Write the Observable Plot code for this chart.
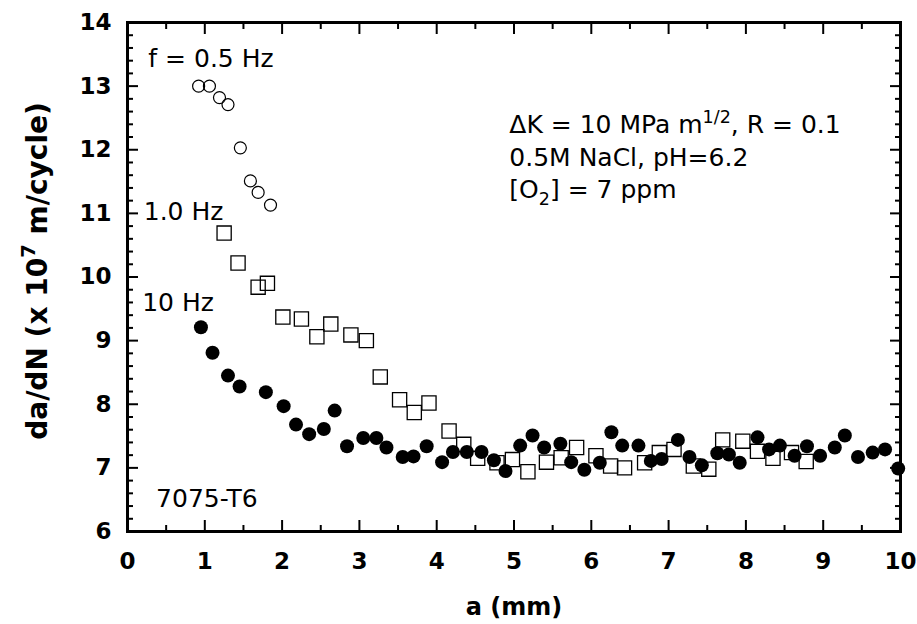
<!DOCTYPE html>
<html><head><meta charset="utf-8">
<script src="https://cdn.jsdelivr.net/npm/d3@7"></script>
<script src="https://cdn.jsdelivr.net/npm/@observablehq/plot@0.6"></script>
<style>body{margin:0;background:#fff}</style>
</head><body><div id="chart"></div>
<script>
// f = 0.5 Hz (open circles)
const a05 = [0.92, 1.06, 1.19, 1.30, 1.46, 1.59, 1.69, 1.85];
const r05 = [13.00, 13.00, 12.82, 12.71, 12.03, 11.51, 11.33, 11.13];
// f = 1.0 Hz (open squares)
const a1 = [1.25,1.43,1.69,1.81,2.01,2.25,2.45,2.63,2.89,3.09,3.27,3.52,3.71,3.90,4.16,4.35,4.53,4.78,4.98,5.18,5.42,5.61,5.81,6.06,6.25,6.43,6.69,6.88,7.07,7.32,7.52,7.70,7.96,8.15,8.35,8.59,8.78];
const r1 = [10.69,10.22,9.84,9.90,9.37,9.34,9.06,9.26,9.09,9.00,8.43,8.07,7.87,8.02,7.58,7.37,7.15,7.08,7.13,6.94,7.09,7.16,7.32,7.19,7.03,7.00,7.08,7.24,7.29,7.03,6.98,7.44,7.42,7.26,7.15,7.24,7.10];
// f = 10 Hz (filled circles)
const a10 = [0.95,1.10,1.30,1.45,1.79,2.02,2.18,2.35,2.54,2.68,2.84,3.05,3.22,3.35,3.56,3.70,3.87,4.07,4.21,4.39,4.58,4.74,4.89,5.08,5.24,5.39,5.60,5.74,5.91,6.11,6.26,6.40,6.61,6.77,6.91,7.12,7.27,7.43,7.63,7.78,7.92,8.15,8.30,8.44,8.63,8.79,8.96,9.15,9.28,9.45,9.64,9.80,9.97];
const r10 = [9.21,8.81,8.45,8.28,8.19,7.97,7.68,7.53,7.61,7.90,7.34,7.47,7.47,7.32,7.17,7.18,7.34,7.09,7.25,7.25,7.25,7.12,6.95,7.35,7.51,7.32,7.38,7.09,6.97,7.08,7.56,7.35,7.35,7.11,7.14,7.44,7.17,7.04,7.23,7.21,7.08,7.48,7.29,7.35,7.19,7.34,7.19,7.32,7.51,7.17,7.24,7.29,6.99];

const xTicks = [0,1,2,3,4,5,6,7,8,9,10];
const xMinor = [0.5,1.5,2.5,3.5,4.5,5.5,6.5,7.5,8.5,9.5];
const yTicks = [6,7,8,9,10,11,12,13,14];
const yMinor = [];
for (let v = 6; v < 14; v++) for (const f of [0.2,0.4,0.6,0.8]) yMinor.push(+(v + f).toFixed(1));

const xLabel = "a (mm)";
const yLabel = "da/dN (x 10^{7} m/cycle)";

// annotations (text, x, y in data units)
const seriesLabels = ["f = 0.5 Hz", "1.0 Hz", "10 Hz", "7075-T6"];
const seriesLabelX = [0.27, 0.21, 0.19, 0.37];
const seriesLabelY = [13.43, 11.02, 9.585, 6.51];
const condLines = ["ΔK = 10 MPa m^{1/2}, R = 0.1", "0.5M NaCl, pH=6.2", "[O_{2}] = 7 ppm"];
const condX = [4.94, 4.94, 4.94];
const condY = [12.39, 11.87, 11.37];

const pts05 = a05.map((a, i) => ({a, r: r05[i]}));
const pts1 = a1.map((a, i) => ({a, r: r1[i]}));
const pts10 = a10.map((a, i) => ({a, r: r10[i]}));
const sLab = seriesLabels.map((t, i) => ({t, x: seriesLabelX[i], y: seriesLabelY[i]}));
const cLab = condLines.map((t, i) => ({t, x: condX[i], y: condY[i]}));

const FF = "'DejaVu Sans', 'Liberation Sans', Arial, sans-serif";
const TICKFS = 23, ANNFS = 25, XLABFS = 24, YLABFS = 28;

const svg = Plot.plot({
  width: 917, height: 624,
  marginLeft: 127, marginRight: 17, marginTop: 22, marginBottom: 93,
  x: {domain: [0, 10]},
  y: {domain: [6, 14]},
  style: {fontFamily: FF, background: "white", color: "black"},
  marks: [
    // minor ticks (inward)
    Plot.axisX(xMinor, {anchor: "bottom", tickSize: -6, tickFormat: () => "", strokeWidth: 2, label: null}),
    Plot.axisX(xMinor, {anchor: "top", tickSize: -6, tickFormat: () => "", strokeWidth: 2, label: null}),
    Plot.axisY(yMinor, {anchor: "left", tickSize: -6, tickFormat: () => "", strokeWidth: 2, label: null}),
    Plot.axisY(yMinor, {anchor: "right", tickSize: -6, tickFormat: () => "", strokeWidth: 2, label: null}),
    // major ticks with labels
    Plot.axisX(xTicks, {anchor: "bottom", tickSize: -11, tickPadding: 32, strokeWidth: 2, label: null,
      fontSize: TICKFS, fontWeight: "bold", tickFormat: d => String(d)}),
    Plot.axisX(xTicks, {anchor: "top", tickSize: -11, tickFormat: () => "", strokeWidth: 2, label: null}),
    Plot.axisY(yTicks, {anchor: "left", tickSize: -11, tickPadding: 27, strokeWidth: 2, label: null,
      fontSize: TICKFS, fontWeight: "bold", tickFormat: d => String(d)}),
    Plot.axisY(yTicks, {anchor: "right", tickSize: -11, tickFormat: () => "", strokeWidth: 2, label: null}),
    Plot.frame({stroke: "black", strokeWidth: 3}),
    // data
    Plot.dot(pts05, {x: "a", y: "r", r: 6, stroke: "black", strokeWidth: 1.2, fill: "none"}),
    Plot.dot(pts1, {x: "a", y: "r", r: 8, symbol: "square", stroke: "black", strokeWidth: 1.3, fill: "none"}),
    Plot.dot(pts10, {x: "a", y: "r", r: 7, fill: "black", stroke: "none"}),
    // annotations
    Plot.text(sLab, {x: "x", y: "y", text: "t", textAnchor: "start", lineAnchor: "middle", fontSize: ANNFS, fill: "black"}),
    Plot.text(cLab, {x: "x", y: "y", text: "t", textAnchor: "start", lineAnchor: "middle", fontSize: ANNFS, fill: "black"}),
    // axis labels
    Plot.text([xLabel], {frameAnchor: "bottom", dy: 76, text: d => d, textAnchor: "middle", fontSize: XLABFS, fontWeight: "bold", fill: "black", lineAnchor: "middle"}),
    Plot.text([yLabel], {frameAnchor: "left", dx: -89, dy: -6, rotate: -90, text: d => d, textAnchor: "middle", fontSize: YLABFS, fontWeight: "bold", fill: "black", lineAnchor: "middle"})
  ]
});

// rich text: ^{..} superscript, _{..} subscript
d3.select(svg).selectAll("text").each(function() {
  const el = this;
  if (el.querySelector("tspan")) return;
  const s = el.textContent;
  if (!/[\^_]\{/.test(s)) return;
  const fs = parseFloat(el.getAttribute("font-size")) || parseFloat(el.parentNode.getAttribute("font-size")) || 20;
  el.textContent = "";
  const re = /([\^_])\{([^}]*)\}/g;
  let last = 0, m;
  const add = (txt, kind) => {
    const t = document.createElementNS("http://www.w3.org/2000/svg", "tspan");
    t.textContent = txt;
    if (kind) {
      t.setAttribute("font-size", (fs * 0.7).toFixed(1));
      t.setAttribute("baseline-shift", kind === "^" ? (fs * 0.42).toFixed(1) : (-fs * 0.28).toFixed(1));
    }
    el.appendChild(t);
  };
  while ((m = re.exec(s))) {
    if (m.index > last) add(s.slice(last, m.index));
    add(m[2], m[1]);
    last = re.lastIndex;
  }
  if (last < s.length) add(s.slice(last));
});

document.getElementById("chart").appendChild(svg);
</script>
</body></html>
